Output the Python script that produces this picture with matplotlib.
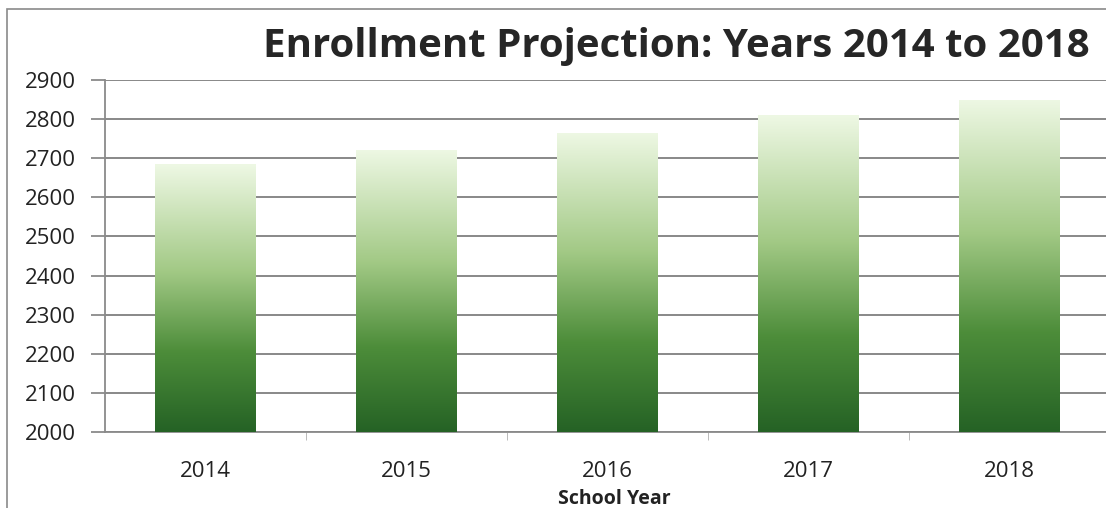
import matplotlib
matplotlib.use("Agg")
import matplotlib.pyplot as plt
import numpy as np
from matplotlib.colors import LinearSegmentedColormap
from matplotlib.patches import Rectangle

plt.rcParams['font.family'] = ['Open Sans', 'DejaVu Sans']

years = ["2014", "2015", "2016", "2017", "2018"]
enrollment = [2685, 2722, 2765, 2810, 2850]
y_ticks = [2000, 2100, 2200, 2300, 2400, 2500, 2600, 2700, 2800, 2900]

green_fade = LinearSegmentedColormap.from_list(
    "green_fade", [(0.0, "#256225"), (0.3, "#4d8d3a"), (0.6, "#a2c985"), (1.0, "#eef8e4")])

fig = plt.figure(figsize=(11.06, 5.08), dpi=100)
ax = fig.add_axes([105 / 1106, 1 - 432 / 508, 1005 / 1106, 352 / 508])

x = np.arange(len(years))
bars = ax.bar(x, np.array(enrollment) - 2000, bottom=2000, width=0.5,
              color="none", edgecolor="none", zorder=3)

# vertical gradient in each bar
grad = np.linspace(0, 1, 256).reshape(-1, 1)
for bar in bars:
    x0, y0 = bar.get_x(), bar.get_y()
    im = ax.imshow(grad, cmap=green_fade, origin="lower", aspect="auto",
                   extent=[x0, x0 + bar.get_width(), y0, y0 + bar.get_height()],
                   zorder=3, interpolation="bicubic")
    im.set_clip_path(bar)

ax.set_xlim(-0.5, len(years) - 0.5)
ax.set_ylim(2000, 2900)
ax.set_yticks(y_ticks)
ax.set_yticklabels([str(t) for t in y_ticks], fontsize=16, color="#222222")
ax.yaxis.grid(True, color="#7f7f7f", linewidth=1.3, zorder=1)
ax.set_axisbelow(True)

ax.set_xticks(x)
ax.set_xticklabels(years, fontsize=16, color="#222222")
ax.set_xticks(np.arange(len(years) - 1) + 0.5, minor=True)
ax.tick_params(axis="x", which="major", length=0, pad=21)
ax.tick_params(axis="x", which="minor", length=6, color="#b0b0b0", direction="out")
ax.tick_params(axis="y", length=10, color="#8a8a8a", width=1.3, pad=11)

for side in ["top", "right"]:
    ax.spines[side].set_visible(False)
ax.spines["left"].set_color("#8a8a8a")
ax.spines["bottom"].set_color("#8a8a8a")
ax.spines["left"].set_linewidth(1.3)
ax.spines["bottom"].set_linewidth(1.3)

# axis title sits just under the tick labels, as in the source
fig.text(614 / 1106, 1 - 499 / 508, "School Year", fontsize=14, fontweight="bold",
         color="#222222", ha="center", va="center")

fig.text(1090 / 1106, 1 - 46 / 508, "Enrollment Projection: Years 2014 to 2018",
         fontsize=29, fontweight="bold", color="#262626", ha="right", va="center")

# outer frame of the chart area
fig.patches.append(Rectangle((7 / 1106, -0.1), 1.2, 1 - 9 / 508 + 0.1,
                             transform=fig.transFigure, fill=False,
                             edgecolor="#8a8a8a", linewidth=1.2))

fig.savefig("out.png", dpi=100)
